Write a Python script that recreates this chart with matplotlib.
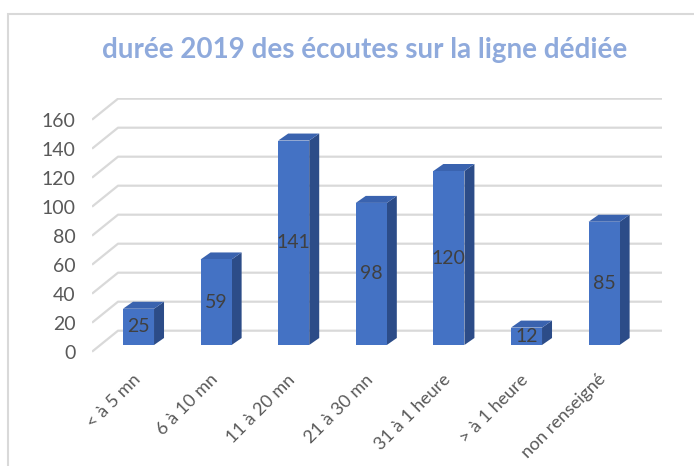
import matplotlib.pyplot as plt
from matplotlib.patches import Polygon, Rectangle
from matplotlib.transforms import ScaledTranslation

plt.rcParams["font.family"] = ["Lato", "DejaVu Sans"]

# Data
categories = ["< à 5 mn", "6 à 10 mn", "11 à 20 mn", "21 à 30 mn",
              "31 à 1 heure", "> à 1 heure", "non renseigné"]
values = [25, 59, 141, 98, 120, 12, 85]
yticks = [0, 20, 40, 60, 80, 100, 120, 140, 160]
title = "durée 2019 des écoutes sur la ligne dédiée"

# Colors
front_col = "#4472C4"
side_col = "#2C4C88"
top_col = "#3A63AF"
grid_col = "#D9D9D9"
text_col = "#595959"

W, H = 694, 466
fig = plt.figure(figsize=(W / 100, H / 100), dpi=100)

# outer chart border
fig.patches.append(Rectangle((8 / W, -0.1), 1.2, (H - 14) / H + 0.1,
                             transform=fig.transFigure, fill=False,
                             edgecolor=grid_col, linewidth=1.5))

# axes geometry (pixels): x spacing 77.6 px per category, y 1.45 px per unit
px_x = 77.6
px_y = 1.45
left_px, right_px = 92, 662
x0 = -(138.5 - left_px) / px_x
x1 = (right_px - 138.5) / px_x
ylim = (-5, 175)
bottom_px = 351.7 - ylim[0] * px_y
top_px = 351.7 - ylim[1] * px_y
ax = fig.add_axes([left_px / W, (H - bottom_px) / H,
                   (right_px - left_px) / W, (bottom_px - top_px) / H])
ax.set_xlim(x0, x1)
ax.set_ylim(*ylim)
for s in ax.spines.values():
    s.set_visible(False)

# back wall gridlines + left diagonal
wall_dx = 26 / px_x
wall_dy = 21 / px_y
for v in yticks:
    ax.plot([x0, x0 + wall_dx, x1], [v, v + wall_dy, v + wall_dy],
            color=grid_col, lw=1.6, zorder=1, solid_capstyle="butt")

# bars (front faces lifted a bit above the floor edge)
lift = ScaledTranslation(0, 6.7 / 100, fig.dpi_scale_trans)
bar_tr = ax.transData + lift
bw = 0.4
dx = 10 / px_x
dy = 7 / px_y
xs = list(range(len(values)))
bars = ax.bar(xs, values, bw, color=front_col, zorder=3, transform=bar_tr)
for x, v in zip(xs, values):
    r = x + bw / 2
    l = x - bw / 2
    ax.add_patch(Polygon([(r, 0), (r + dx, dy), (r + dx, v + dy), (r, v)],
                         closed=True, facecolor=side_col, edgecolor="none",
                         zorder=2, transform=bar_tr))
    ax.add_patch(Polygon([(l, v), (l + dx, v + dy), (r + dx, v + dy), (r, v)],
                         closed=True, facecolor=top_col, edgecolor="none",
                         zorder=2, transform=bar_tr))
    ax.text(x, v / 2, str(v), ha="center", va="center", fontsize=14,
            color="#404040", zorder=4, transform=bar_tr)

# ticks
ax.set_yticks(yticks)
ax.set_yticklabels([str(t) for t in yticks], fontsize=14, color=text_col)
ax.tick_params(axis="y", length=0, pad=12)
ax.set_xticks(xs)
ax.set_xticklabels(categories, rotation=45, ha="right", va="center",
                   rotation_mode="anchor", fontsize=13, color=text_col)
ax.tick_params(axis="x", length=0, pad=13)
shift = ScaledTranslation(-1 / 100, 0, fig.dpi_scale_trans)
for lab in ax.get_xticklabels():
    lab.set_transform(lab.get_transform() + shift)

fig.text(365 / W, (H - 50) / H, title, ha="center", va="center",
         fontsize=20, fontweight="bold", color="#8FAADC")

fig.savefig("out.png", dpi=100)
